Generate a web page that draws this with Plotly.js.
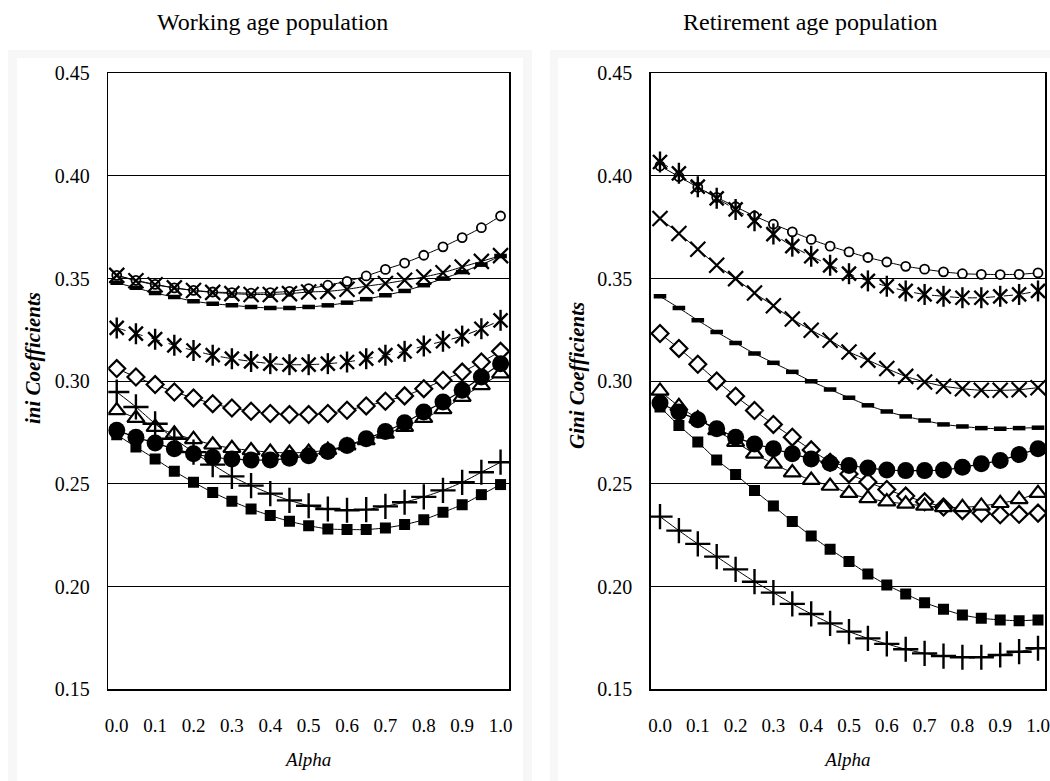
<!DOCTYPE html>
<html><head><meta charset="utf-8">
<script src="https://cdn.plot.ly/plotly-3.0.1.min.js"></script>
<style>html,body{margin:0;padding:0;background:#fff}#chart{width:1050px;height:781px}</style>
</head><body><div id="chart"></div>
<script>
// ---------- data ----------
const alpha = [0.00,0.05,0.10,0.15,0.20,0.25,0.30,0.35,0.40,0.45,0.50,0.55,0.60,0.65,0.70,0.75,0.80,0.85,0.90,0.95,1.00];
const xTickVals = [0.0,0.1,0.2,0.3,0.4,0.5,0.6,0.7,0.8,0.9,1.0];
const xTickText = ["0.0","0.1","0.2","0.3","0.4","0.5","0.6","0.7","0.8","0.9","1.0"];
const yTickVals = [0.15,0.20,0.25,0.30,0.35,0.40,0.45];
const yTickText = ["0.15","0.20","0.25","0.30","0.35","0.40","0.45"];
const panelTitles = ["Working age population","Retirement age population"];
const yTitles = ["ini Coefficients","Gini Coefficients"];
const xTitle = "Alpha";

// Working age population
const workOpenCircle = [0.3516,0.3492,0.3472,0.3455,0.3443,0.3435,0.3432,0.3429,0.3432,0.3438,0.3451,0.3468,0.3487,0.3513,0.3545,0.3576,0.3614,0.3655,0.3700,0.3748,0.3805];
const workCross      = [0.3516,0.3490,0.3470,0.3455,0.3442,0.3433,0.3427,0.3423,0.3423,0.3427,0.3435,0.3438,0.3448,0.3463,0.3476,0.3492,0.3508,0.3529,0.3557,0.3584,0.3612];
const workDash       = [0.3480,0.3455,0.3430,0.3410,0.3390,0.3378,0.3370,0.3362,0.3357,0.3357,0.3362,0.3370,0.3383,0.3400,0.3419,0.3440,0.3468,0.3500,0.3532,0.3568,0.3610];
const workAsterisk   = [0.3260,0.3232,0.3205,0.3175,0.3150,0.3127,0.3110,0.3097,0.3086,0.3081,0.3081,0.3086,0.3094,0.3110,0.3127,0.3146,0.3172,0.3195,0.3220,0.3256,0.3297];
const workDiamond    = [0.3062,0.3021,0.2984,0.2948,0.2919,0.2891,0.2870,0.2854,0.2843,0.2838,0.2838,0.2843,0.2859,0.2880,0.2903,0.2929,0.2964,0.3005,0.3045,0.3094,0.3146];
const workTriangle   = [0.2858,0.2821,0.2777,0.2744,0.2717,0.2691,0.2674,0.2663,0.2655,0.2651,0.2655,0.2665,0.2687,0.2712,0.2744,0.2777,0.2821,0.2863,0.2923,0.2980,0.3037];
const workPlus       = [0.2948,0.2875,0.2793,0.2720,0.2655,0.2594,0.2537,0.2492,0.2453,0.2420,0.2394,0.2378,0.2372,0.2375,0.2391,0.2411,0.2437,0.2469,0.2508,0.2557,0.2606];
const workSquare     = [0.2740,0.2680,0.2622,0.2562,0.2508,0.2459,0.2416,0.2378,0.2346,0.2318,0.2297,0.2281,0.2278,0.2278,0.2286,0.2302,0.2326,0.2362,0.2399,0.2448,0.2497];
const workDot        = [0.2761,0.2728,0.2699,0.2671,0.2647,0.2630,0.2622,0.2617,0.2617,0.2625,0.2638,0.2658,0.2687,0.2720,0.2756,0.2798,0.2850,0.2899,0.2956,0.3021,0.3086];

// Retirement age population
const retOpenCircle = [0.4049,0.3997,0.3945,0.3896,0.3850,0.3805,0.3765,0.3728,0.3691,0.3658,0.3630,0.3603,0.3581,0.3560,0.3546,0.3533,0.3524,0.3521,0.3520,0.3521,0.3528];
const retCross      = [0.3793,0.3720,0.3643,0.3565,0.3500,0.3430,0.3368,0.3303,0.3249,0.3200,0.3143,0.3103,0.3062,0.3024,0.2997,0.2976,0.2964,0.2956,0.2956,0.2959,0.2969];
const retDash       = [0.3414,0.3357,0.3297,0.3240,0.3187,0.3135,0.3090,0.3046,0.3000,0.2960,0.2920,0.2883,0.2853,0.2829,0.2809,0.2790,0.2780,0.2772,0.2769,0.2772,0.2774];
const retAsterisk   = [0.4068,0.4013,0.3948,0.3891,0.3837,0.3782,0.3717,0.3658,0.3609,0.3565,0.3524,0.3489,0.3463,0.3440,0.3423,0.3414,0.3407,0.3407,0.3414,0.3423,0.3440];
const retDiamond    = [0.3233,0.3160,0.3083,0.3002,0.2927,0.2858,0.2790,0.2728,0.2666,0.2606,0.2549,0.2510,0.2473,0.2441,0.2413,0.2388,0.2370,0.2357,0.2350,0.2352,0.2358];
const retTriangle   = [0.2953,0.2878,0.2818,0.2761,0.2704,0.2647,0.2598,0.2555,0.2519,0.2490,0.2455,0.2430,0.2414,0.2403,0.2393,0.2386,0.2386,0.2393,0.2406,0.2425,0.2455];
const retPlus       = [0.2341,0.2273,0.2208,0.2146,0.2084,0.2024,0.1971,0.1916,0.1867,0.1821,0.1781,0.1748,0.1721,0.1695,0.1675,0.1662,0.1656,0.1656,0.1667,0.1683,0.1700];
const retSquare     = [0.2875,0.2785,0.2704,0.2617,0.2546,0.2468,0.2393,0.2317,0.2247,0.2182,0.2122,0.2062,0.2008,0.1964,0.1922,0.1890,0.1862,0.1846,0.1838,0.1834,0.1838];
const retDot        = [0.2894,0.2850,0.2813,0.2769,0.2728,0.2695,0.2671,0.2647,0.2622,0.2601,0.2590,0.2578,0.2568,0.2565,0.2565,0.2568,0.2581,0.2598,0.2614,0.2643,0.2671];

// ---------- styles ----------
const FONT = "Liberation Serif";
const styles = {
  openCircle: {marker:{symbol:"circle", size:9, color:"#fff", line:{color:"#000", width:1.8}}, line:{color:"#000", width:1}},
  cross:      {marker:{symbol:"x-thin-open", size:15, color:"#000", line:{color:"#000", width:2.2}}, line:{color:"#000", width:1}},
  dash:       {marker:{symbol:"line-ew", size:9, color:"#000", line:{color:"#000", width:4.5}}, line:{color:"#000", width:1}},
  asterisk:   {marker:{symbol:"x-thin-open", size:14, color:"#000", line:{color:"#000", width:2.4}}, line:{color:"#000", width:1, dash:"dash"}},
  diamond:    {marker:{symbol:"diamond", size:13, color:"#fff", line:{color:"#000", width:2.2}}, line:{color:"#000", width:1}},
  triangle:   {marker:{symbol:"triangle-up", size:15, color:"#fff", line:{color:"#000", width:2.2}}, line:{color:"#000", width:1}},
  plus:       {marker:{symbol:"cross-thin-open", size:18, color:"#000", line:{color:"#000", width:2.4}}, line:{color:"#000", width:1}},
  square:     {marker:{symbol:"square", size:11, color:"#000", line:{color:"#000", width:0}}, line:{color:"#000", width:1}},
  dot:        {marker:{symbol:"circle", size:17, color:"#000", line:{color:"#000", width:0}}, line:{color:"#000", width:1.2}}
};

const panels = [
  {xa:"x", ya:"y", series:[["openCircle",workOpenCircle],["cross",workCross],["dash",workDash],["asterisk",workAsterisk],["diamond",workDiamond],["triangle",workTriangle],["plus",workPlus],["square",workSquare],["dot",workDot]]},
  {xa:"x2", ya:"y2", series:[["openCircle",retOpenCircle],["cross",retCross],["dash",retDash],["asterisk",retAsterisk],["diamond",retDiamond],["triangle",retTriangle],["plus",retPlus],["square",retSquare],["dot",retDot]]}
];

const traces = [];
panels.forEach((p, pi) => {
  p.series.forEach(([key, vals]) => {
    const st = styles[key];
    traces.push({x: alpha, y: vals, xaxis: p.xa, yaxis: p.ya, type: "scatter", mode: "lines+markers",
      name: panelTitles[pi] + " – " + key, line: Object.assign({shape:"spline", smoothing:0.6}, st.line), marker: st.marker, showlegend:false, hoverinfo:"x+y"});
    if (key === "asterisk") {
      traces.push({x: alpha, y: vals, xaxis: p.xa, yaxis: p.ya, type: "scatter", mode: "markers",
        name: panelTitles[pi] + " – asterisk bar", marker:{symbol:"line-ns-open", size:15, color:"#000", line:{color:"#000", width:2.4}}, showlegend:false, hoverinfo:"skip"});
    }
  });
});

function px2x(px){return px/1050;}
function px2y(py){return 1 - py/781;}

const axisX = (domain, range) => ({domain, range, tickvals:xTickVals, ticktext:xTickText, showgrid:false, zeroline:false,
  showline:true, mirror:true, linecolor:"#000", linewidth:1.5, ticks:"", ticklabelstandoff:18,
  tickfont:{family:FONT, size:19, color:"#000"},
  title:{text:"<i>"+xTitle+"</i>", font:{family:FONT, size:19, color:"#000"}, standoff:18}});
const axisY = (domain) => ({domain, range:[0.15,0.45], tickvals:yTickVals, ticktext:yTickText, showgrid:true, gridcolor:"#000", gridwidth:1,
  zeroline:false, showline:true, mirror:true, linecolor:"#000", linewidth:1.5, ticks:"", ticklabelstandoff:13,
  tickfont:{family:FONT, size:20, color:"#000"}});

const yDom = [px2y(689.3), px2y(73.3)];
const layout = {
  width:1050, height:781, margin:{l:0,r:0,t:0,b:0}, paper_bgcolor:"#fff", plot_bgcolor:"#fff",
  showlegend:false, font:{family:FONT, color:"#000"},
  xaxis: axisX([px2x(108.3), px2x(509)], [-0.022, 1.022]),
  xaxis2: axisX([px2x(650.7), px2x(1045)], [-0.0246, 1.0185]),
  yaxis: Object.assign(axisY(yDom), {anchor:"x"}),
  yaxis2: Object.assign(axisY(yDom), {anchor:"x2"}),
  shapes: [
    {type:"rect", xref:"paper", yref:"paper", x0:px2x(8), x1:px2x(532), y0:-0.02, y1:px2y(50), fillcolor:"#f7f7f7", line:{width:0}, layer:"below"},
    {type:"rect", xref:"paper", yref:"paper", x0:px2x(17), x1:px2x(523), y0:-0.02, y1:px2y(58), fillcolor:"#fff", line:{width:0}, layer:"below"},
    {type:"rect", xref:"paper", yref:"paper", x0:px2x(550), x1:1.02, y0:-0.02, y1:px2y(50), fillcolor:"#f7f7f7", line:{width:0}, layer:"below"},
    {type:"rect", xref:"paper", yref:"paper", x0:px2x(558), x1:1.02, y0:-0.02, y1:px2y(58), fillcolor:"#fff", line:{width:0}, layer:"below"}
  ],
  annotations: [
    {xref:"paper", yref:"paper", x:px2x(272), y:px2y(22), text:panelTitles[0], showarrow:false, xanchor:"center", yanchor:"middle", font:{family:FONT, size:24, color:"#000"}},
    {xref:"paper", yref:"paper", x:px2x(810), y:px2y(22), text:panelTitles[1], showarrow:false, xanchor:"center", yanchor:"middle", font:{family:FONT, size:24, color:"#000"}},
    {xref:"paper", yref:"paper", x:px2x(33), y:px2y(358), text:"<b><i>"+yTitles[0]+"</i></b>", textangle:-90, showarrow:false, xanchor:"center", yanchor:"middle", font:{family:FONT, size:21, color:"#000"}},
    {xref:"paper", yref:"paper", x:px2x(577), y:px2y(376), text:"<b><i>"+yTitles[1]+"</i></b>", textangle:-90, showarrow:false, xanchor:"center", yanchor:"middle", font:{family:FONT, size:21, color:"#000"}}
  ]
};

Plotly.newPlot("chart", traces, layout, {displayModeBar:false, staticPlot:true});
</script>
</body></html>
